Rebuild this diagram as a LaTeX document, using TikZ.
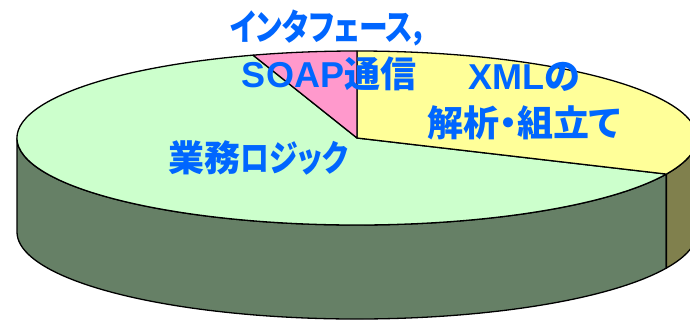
\documentclass[tikz,border=0pt]{standalone}
\usepackage{fontspec}
\setmainfont{Liberation Sans}
\newfontfamily\jpfont{Noto Sans CJK JP}[RawFeature=+palt]
\newfontfamily\kanafont{Noto Sans CJK JP}[RawFeature=+palt,FakeStretch=0.8]
\definecolor{textblue}{RGB}{0,102,255}
\definecolor{greentop}{RGB}{204,255,204}
\definecolor{greenside}{RGB}{102,128,102}
\definecolor{yellowtop}{RGB}{255,255,153}
\definecolor{yellowside}{RGB}{128,128,77}
\definecolor{pinktop}{RGB}{255,153,204}
\usetikzlibrary{calc}

\begin{document}
\begin{tikzpicture}[x=1pt,y=1pt,line width=1.3pt,line join=round,
    slicetext/.style={text=textblue,inner sep=0pt,align=center,
                      font=\fontsize{36}{47}\selectfont\bfseries},
    rim/.style={x radius=340pt,y radius=87pt}]
    \useasboundingbox (0,0) rectangle (690,321);
    \coordinate (C) at (357,183);

    % side of the pie
    \draw[fill=greenside] ($(C)+(180:340pt and 87pt)$)
        arc[start angle=180,end angle=335.5,rim] -- ++(0,-94)
        arc[start angle=335.5,end angle=180,rim] -- cycle;
    \draw[fill=yellowside] ($(C)+(-24.5:340pt and 87pt)$)
        arc[start angle=-24.5,end angle=0,rim] -- ++(0,-94)
        arc[start angle=0,end angle=-24.5,rim] -- cycle;

    % top of the pie
    \draw[fill=greentop] (C) -- ++(107.8:340pt and 87pt)
        arc[start angle=107.8,end angle=335.5,rim] -- cycle;
    \draw[fill=yellowtop] (C) -- ++(-24.5:340pt and 87pt)
        arc[start angle=-24.5,end angle=90,rim] -- cycle;
    \draw[fill=pinktop] (C) -- ++(90:340pt and 87pt)
        arc[start angle=90,end angle=107.8,rim] -- cycle;

    \node[slicetext] (iface) at (329,271) {{\kanafont インタフェース，}\\SOAP{\jpfont 通信}};
    \node[slicetext] (xml) at (524,220) {XML{\jpfont の}\\{\jpfont 解析・組立て}};
    \node[slicetext] (logic) at (258,163) {{\jpfont 業務}{\kanafont ロジック}};
\end{tikzpicture}
\end{document}
